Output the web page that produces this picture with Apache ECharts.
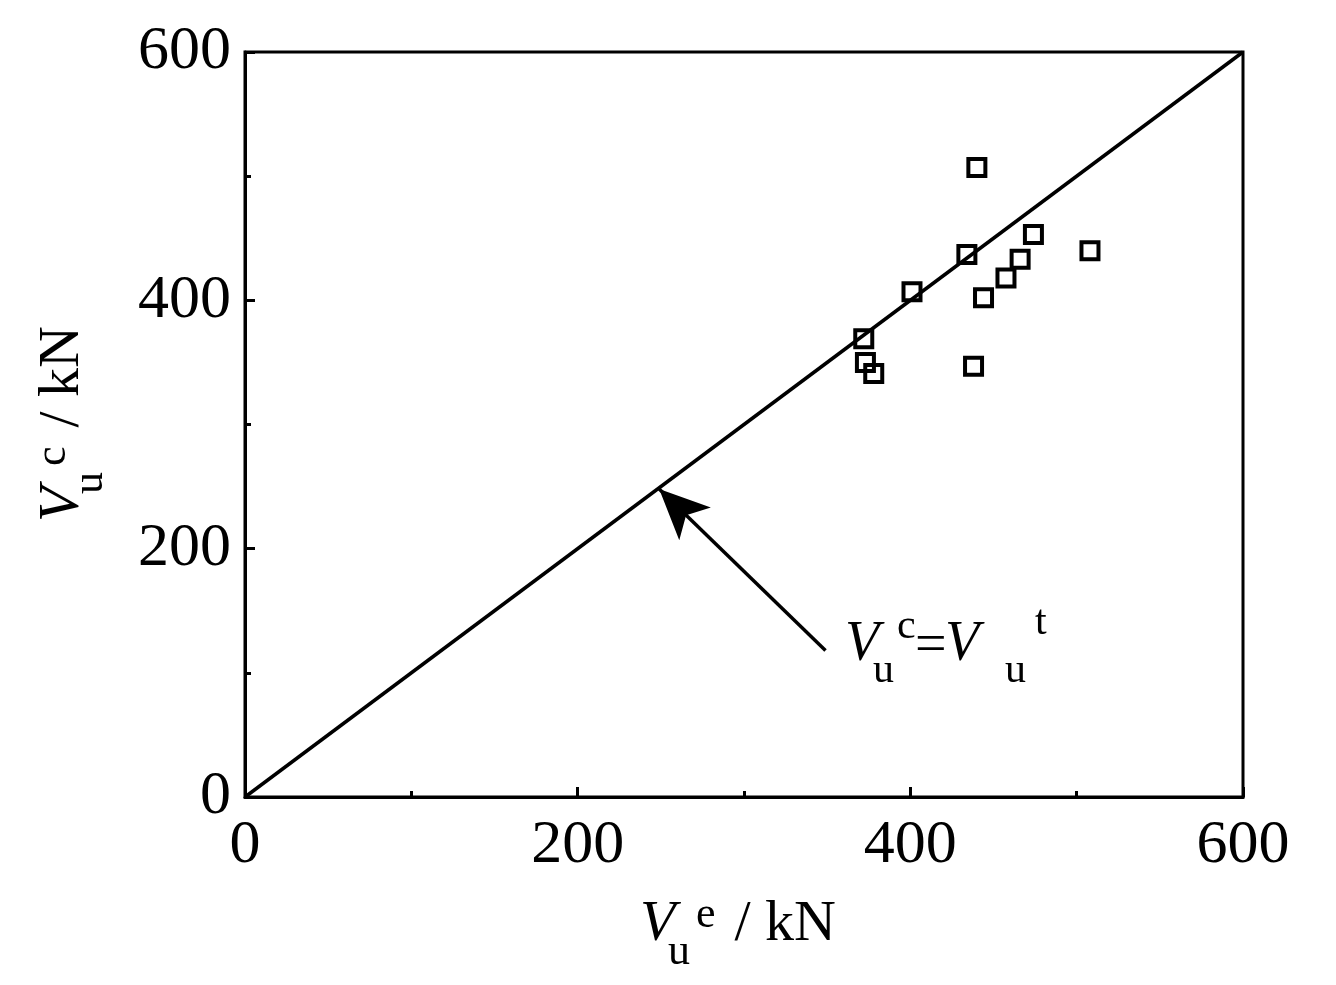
<!DOCTYPE html>
<html>
<head>
<meta charset="utf-8">
<script src="https://cdn.jsdelivr.net/npm/echarts@6/dist/echarts.min.js"></script>
<style>html,body{margin:0;background:#fff}#chart{width:1336px;height:985px}</style>
</head>
<body>
<div id="chart"></div>
<script>
// measured shear capacity (x) vs calculated (y), kN
const testValues = [440, 474, 508, 434, 466, 457.5, 444, 401, 372, 373, 378, 438];
const calcValues = [507, 453, 440, 437, 433, 418, 402, 407, 369, 350, 341, 347];
const refLine = [[0, 0], [600, 600]];
const arrowFrom = [349, 118];
const arrowTo = [249, 248];

const FONT = 'Liberation Serif';
const chart = echarts.init(document.getElementById('chart'));

const titleParts = (sup) => [
    { type: 'text', x: 0, y: 0, style: { text: 'V', font: 'italic 58px ' + FONT, verticalAlign: 'middle', fill: '#000' } },
    { type: 'text', x: 28, y: 27, style: { text: 'u', font: '44px ' + FONT, verticalAlign: 'middle', fill: '#000' } },
    { type: 'text', x: 56, y: -10, style: { text: sup, font: '44px ' + FONT, verticalAlign: 'middle', fill: '#000' } },
    { type: 'text', x: 80, y: 0, style: { text: ' / kN', font: '58px ' + FONT, verticalAlign: 'middle', fill: '#000' } }
];

const axisCommon = {
    type: 'value',
    min: 0,
    max: 600,
    interval: 200,
    axisLine: { show: true, lineStyle: { color: '#000', width: 3 } },
    axisTick: { show: true, inside: true, length: 10, lineStyle: { color: '#000', width: 3 } },
    minorTick: { show: true, splitNumber: 2, length: 6, lineStyle: { color: '#000', width: 3 } },
    splitLine: { show: false },
    axisLabel: { fontFamily: FONT, fontSize: 62, color: '#000' }
};

chart.setOption({
    animation: false,
    grid: {
        left: 245, right: 93, top: 52, bottom: 188,
        show: true, borderColor: '#000', borderWidth: 3
    },
    xAxis: Object.assign({}, axisCommon, { axisLabel: Object.assign({}, axisCommon.axisLabel, { margin: 18 }) }),
    yAxis: Object.assign({}, axisCommon, { axisLabel: Object.assign({}, axisCommon.axisLabel, { margin: 14 }) }),
    graphic: [
        { type: 'group', x: 640, y: 925, children: titleParts('e') },
        { type: 'group', x: 63, y: 522, rotation: Math.PI / 2, children: titleParts('c') },
        {
            type: 'group', x: 845, y: 645, children: [
                { type: 'text', x: 0, y: 0, style: { text: 'V', font: 'italic 56px ' + FONT, verticalAlign: 'middle', fill: '#000' } },
                { type: 'text', x: 28, y: 26, style: { text: 'u', font: '42px ' + FONT, verticalAlign: 'middle', fill: '#000' } },
                { type: 'text', x: 52, y: -18, style: { text: 'c', font: '42px ' + FONT, verticalAlign: 'middle', fill: '#000' } },
                { type: 'text', x: 70, y: 2, style: { text: '=', font: '56px ' + FONT, verticalAlign: 'middle', fill: '#000' } },
                { type: 'text', x: 100, y: 0, style: { text: 'V', font: 'italic 56px ' + FONT, verticalAlign: 'middle', fill: '#000' } },
                { type: 'text', x: 160, y: 26, style: { text: 'u', font: '42px ' + FONT, verticalAlign: 'middle', fill: '#000' } },
                { type: 'text', x: 190, y: -22, style: { text: 't', font: '42px ' + FONT, verticalAlign: 'middle', fill: '#000' } }
            ]
        }
    ],
    series: [
        {
            type: 'line',
            data: refLine,
            symbol: 'none',
            lineStyle: { color: '#000', width: 3.5 },
            markLine: {
                silent: true,
                symbol: ['none', 'arrow'],
                symbolSize: [34, 50],
                label: { show: false },
                lineStyle: { color: '#000', width: 3.5, type: 'solid' },
                data: [[{ coord: arrowFrom }, { coord: arrowTo }]]
            }
        },
        {
            type: 'scatter',
            data: testValues.map((v, i) => [v, calcValues[i]]),
            symbol: 'rect',
            symbolSize: 17,
            itemStyle: { color: 'rgba(255,255,255,0)', borderColor: '#000', borderWidth: 4, opacity: 1 }
        }
    ]
});
</script>
</body>
</html>
